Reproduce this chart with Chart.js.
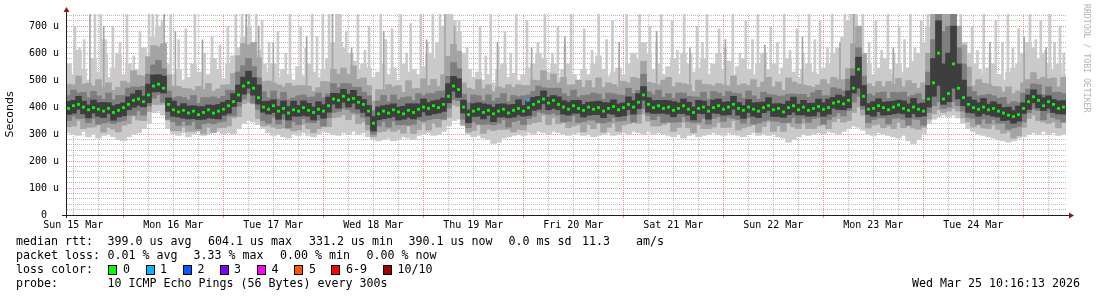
<!DOCTYPE html>
<html>
<head>
<meta charset="utf-8">
<title>smokeping rtt</title>
<script src="https://cdn.jsdelivr.net/npm/chart.js@4.4.1/dist/chart.umd.min.js"></script>
<style>
  html, body { margin: 0; padding: 0; background: #fff; }
  #wrap { position: relative; width: 1097px; height: 297px; overflow: hidden; }
  #chart { position: absolute; left: 0; top: 0; }
  .lg { position: absolute; font-family: "DejaVu Sans Mono", monospace; font-size: 11.63px; line-height: 14px; white-space: pre; color: #000; }
  .box { position: absolute; width: 7px; height: 8px; border: 1px solid #000; top: 265px; }
  #credit { position: absolute; left: 1082px; top: 4px; writing-mode: vertical-rl; font-family: "DejaVu Sans Mono", monospace; font-size: 8.2px; line-height: 10px; color: #b4b4b4; white-space: pre; }
</style>
</head>
<body>
<div id="wrap">
  <canvas id="chart" width="1097" height="297"></canvas>

  <!-- legend block under the graph -->
  <div class="lg" style="left:16px;top:234px">median rtt:</div>
  <div class="lg" style="left:107.5px;top:234px">399.0 us avg</div>
  <div class="lg" style="left:208px;top:234px">604.1 us max</div>
  <div class="lg" style="left:309px;top:234px">331.2 us min</div>
  <div class="lg" style="left:408.5px;top:234px">390.1 us now</div>
  <div class="lg" style="left:508.5px;top:234px">0.0 ms sd</div>
  <div class="lg" style="left:582px;top:234px">11.3</div>
  <div class="lg" style="left:636px;top:234px">am/s</div>

  <div class="lg" style="left:16px;top:248px">packet loss:</div>
  <div class="lg" style="left:107.5px;top:248px">0.01 % avg</div>
  <div class="lg" style="left:193.5px;top:248px">3.33 % max</div>
  <div class="lg" style="left:280px;top:248px">0.00 % min</div>
  <div class="lg" style="left:366.5px;top:248px">0.00 % now</div>

  <div class="lg" style="left:16px;top:262px">loss color:</div>
  <div class="box" style="left:108px;background:#00ff00"></div><div class="lg" style="left:123px;top:262px">0</div>
  <div class="box" style="left:146px;background:#00b8ff"></div><div class="lg" style="left:160px;top:262px">1</div>
  <div class="box" style="left:183px;background:#0059ff"></div><div class="lg" style="left:197.5px;top:262px">2</div>
  <div class="box" style="left:220px;background:#7e00ff"></div><div class="lg" style="left:234px;top:262px">3</div>
  <div class="box" style="left:257px;background:#ff00ff"></div><div class="lg" style="left:271.5px;top:262px">4</div>
  <div class="box" style="left:294px;background:#ff5500"></div><div class="lg" style="left:309px;top:262px">5</div>
  <div class="box" style="left:331px;background:#ff0000"></div><div class="lg" style="left:346px;top:262px">6-9</div>
  <div class="box" style="left:383px;background:#a10000"></div><div class="lg" style="left:397.5px;top:262px">10/10</div>

  <div class="lg" style="left:16px;top:276px">probe:</div>
  <div class="lg" style="left:107.5px;top:276px">10 ICMP Echo Pings (56 Bytes) every 300s</div>
  <div class="lg" style="right:17px;top:276px">Wed Mar 25 10:16:13 2026</div>

  <div id="credit">RRDTOOL / TOBI OETIKER</div>
</div>

<script>
// ---- time axis: hours counted from Sun 15 Mar 00:00 ----
const startHour = 10.25;   // left edge of the graph (Sun 15 Mar 10:15)
const endHour = 250.25;    // right edge (Wed 25 Mar 10:15)
const colStep = 1.2;       // one smoke column = 1.2 h
const dayLabels = ['Sun 15 Mar', 'Mon 16 Mar', 'Tue 17 Mar', 'Wed 18 Mar', 'Thu 19 Mar',
                   'Fri 20 Mar', 'Sat 21 Mar', 'Sun 22 Mar', 'Mon 23 Mar', 'Tue 24 Mar'];
const yTickValues = [0, 20, 40, 60, 80, 100, 120, 140, 160, 180, 200, 220, 240, 260, 280, 300, 320, 340,
                     360, 380, 400, 420, 440, 460, 480, 500, 520, 540, 560, 580, 600, 620, 640, 660, 680, 700, 720, 740];
const xTickValues = [12, 18, 24, 30, 36, 42, 48, 54, 60, 66, 72, 78, 84, 90, 96, 102, 108, 114, 120, 126,
                     132, 138, 144, 150, 156, 162, 168, 174, 180, 186, 192, 198, 204, 210, 216, 222, 228, 234, 240, 246];

// ---- median rtt (us), one value per column ----
const medianRtt = [
  395, 405, 410, 400, 390, 398, 392, 385, 395, 380,
  388, 398, 410, 425, 430, 420, 445, 478, 485, 470,
  410, 390, 382, 388, 378, 385, 372, 380, 390, 378,
  385, 392, 405, 420, 445, 478, 490, 470, 435, 400,
  392, 405, 385, 395, 378, 390, 385, 398, 388, 380,
  392, 385, 405, 430, 425, 440, 428, 432, 418, 410,
  385, 340, 375, 385, 378, 390, 382, 375, 388, 380,
  392, 400, 395, 405, 398, 410, 440, 478, 465, 400,
  372, 385, 392, 380, 388, 375, 385, 392, 378, 388,
  395, 385, 398, 410, 420, 430, 415, 425, 410, 400,
  392, 405, 395, 388, 400, 392, 398, 385, 395, 402,
  390, 398, 410, 400, 418, 445, 410, 398, 405, 395,
  400, 388, 395, 405, 392, 380, 395, 400, 385, 398,
  405, 392, 400, 410, 395, 388, 400, 392, 385, 398,
  405, 390, 395, 382, 398, 405, 390, 400, 388, 395,
  402, 392, 398, 415, 420, 412, 425, 470, 540, 440,
  392, 395, 405, 398, 390, 400, 408, 395, 388, 400,
  392, 385, 430, 490, 600, 430, 450, 560, 470, 435,
  410, 398, 392, 400, 390, 395, 385, 378, 370, 365,
  372, 395, 420, 438, 425, 405, 420, 410, 395, 400
];

// ---- outer smoke (fastest / slowest ping) ----
const smokeMin = [
  305, 300, 295, 310, 290, 300, 285, 295, 300, 290,
  280, 275, 290, 300, 305, 320, 340, 380, 385, 370,
  320, 300, 295, 305, 290, 300, 310, 295, 300, 305,
  310, 300, 305, 300, 320, 340, 350, 345, 335, 320,
  305, 295, 300, 290, 285, 300, 295, 305, 295, 290,
  300, 310, 305, 300, 295, 305, 300, 310, 300, 305,
  290, 280, 275, 280, 285, 275, 280, 290, 285, 280,
  295, 300, 305, 295, 300, 310, 330, 350, 355, 340,
  300, 290, 295, 285, 280, 265, 270, 285, 290, 295,
  300, 295, 305, 300, 310, 305, 300, 310, 305, 300,
  295, 300, 305, 295, 300, 290, 295, 300, 305, 295,
  300, 305, 300, 310, 305, 300, 310, 300, 305, 300,
  295, 290, 300, 285, 295, 300, 290, 295, 300, 305,
  300, 295, 305, 300, 295, 290, 300, 305, 295, 300,
  295, 300, 290, 285, 270, 280, 290, 300, 295, 300,
  305, 300, 310, 305, 300, 310, 320, 330, 325, 315,
  300, 295, 305, 300, 295, 290, 285, 295, 275, 265,
  280, 300, 340, 355, 365, 370, 365, 370, 360, 340,
  320, 310, 300, 295, 290, 285, 280, 275, 270, 275,
  285, 290, 300, 305, 300, 310, 300, 305, 295, 300
];
const smokeMax = [
  560, 520, 610, 540, 500, 580, 530, 650, 510, 545,
  600, 520, 560, 505, 540, 620, 580, 660, 700, 640,
  560, 520, 540, 500, 510, 560, 530, 495, 520, 580,
  540, 505, 560, 590, 620, 660, 700, 640, 610, 560,
  530, 560, 510, 540, 520, 500, 550, 515, 560, 530,
  510, 540, 580, 640, 745, 620, 600, 570, 540, 560,
  545, 510, 530, 560, 520, 545, 500, 560, 530, 540,
  520, 550, 600, 580, 640, 700, 745, 720, 680, 600,
  540, 510, 530, 500, 520, 490, 540, 560, 510, 525,
  500, 520, 545, 560, 600, 580, 530, 560, 510, 540,
  560, 520, 500, 540, 520, 560, 590, 540, 515, 530,
  545, 520, 560, 600, 580, 640, 600, 540, 560, 520,
  550, 580, 520, 600, 560, 530, 545, 580, 520, 560,
  600, 540, 570, 520, 550, 580, 540, 520, 560, 600,
  540, 560, 520, 545, 580, 530, 510, 540, 560, 530,
  520, 545, 560, 600, 620, 660, 720, 745, 700, 600,
  560, 520, 545, 580, 540, 520, 560, 530, 545, 570,
  600, 640, 700, 745, 745, 745, 745, 745, 700, 640,
  600, 560, 540, 520, 545, 560, 520, 500, 530, 545,
  560, 600, 640, 620, 580, 600, 560, 540, 560, 520
];

// ---- inner smoke: ping 2..9 ----
const band2Low = [
  327, 330, 350, 320, 325, 326, 334, 307, 325, 318,
  308, 333, 338, 367, 352, 350, 383, 410, 410, 410,
  352, 312, 312, 326, 310, 310, 312, 300, 325, 306,
  323, 324, 330, 360, 365, 413, 418, 412, 357, 330,
  332, 325, 320, 323, 320, 312, 315, 336, 320, 305,
  320, 327, 327, 360, 363, 372, 353, 372, 338, 345,
  315, 290, 307, 310, 318, 310, 317, 303, 330, 302,
  317, 340, 315, 340, 326, 352, 362, 408, 403, 332,
  307, 313, 334, 302, 318, 313, 317, 317, 318, 308,
  317, 315, 336, 342, 345, 370, 335, 360, 338, 342,
  324, 330, 335, 308, 335, 320, 340, 307, 325, 340,
  310, 333, 338, 342, 340, 375, 348, 330, 330, 335,
  342, 310, 325, 343, 324, 305, 335, 320, 320, 326,
  343, 324, 325, 350, 315, 323, 328, 334, 307, 328,
  345, 310, 330, 310, 340, 327, 320, 338, 320, 320,
  330, 334, 320, 345, 358, 344, 350, 380, 400, 370,
  322, 333, 337, 323, 330, 320, 343, 323, 330, 322,
  317, 325, 355, 375, 390, 380, 385, 395, 385, 360,
  345, 326, 334, 322, 320, 333, 317, 303, 310, 285,
  294, 325, 358, 370, 350, 345, 340, 345, 323, 342
];
const band2High = [
  485, 483, 515, 485, 488, 478, 502, 473, 490, 462,
  473, 496, 490, 535, 518, 515, 587, 628, 623, 635,
  520, 478, 477, 470, 468, 463, 477, 465, 488, 458,
  467, 482, 483, 525, 590, 636, 630, 640, 583, 495,
  497, 490, 483, 475, 488, 478, 480, 480, 478, 458,
  472, 495, 493, 540, 522, 545, 521, 552, 503, 508,
  480, 422, 465, 463, 483, 475, 480, 455, 498, 468,
  470, 505, 480, 503, 478, 520, 588, 633, 607, 490,
  470, 465, 502, 468, 483, 457, 475, 470, 483, 473,
  483, 480, 480, 500, 498, 535, 500, 523, 490, 510,
  482, 483, 500, 473, 498, 472, 508, 473, 490, 484,
  475, 496, 490, 510, 506, 570, 492, 488, 483, 500,
  510, 476, 490, 487, 482, 458, 500, 485, 483, 478,
  487, 482, 478, 515, 480, 486, 480, 502, 473, 493,
  510, 475, 493, 462, 508, 493, 485, 482, 478, 473,
  482, 502, 486, 510, 502, 502, 543, 635, 700, 598,
  487, 477, 495, 476, 495, 485, 506, 475, 498, 488,
  470, 490, 600, 745, 745, 745, 745, 745, 700, 630,
  548, 478, 502, 488, 485, 477, 475, 456, 475, 450,
  460, 490, 502, 528, 503, 510, 505, 508, 475, 510
];

// ---- inner smoke: ping 3..8 ----
const band3Low = [
  350, 367, 358, 358, 342, 358, 337, 341, 345, 339,
  346, 350, 370, 370, 386, 370, 404, 433, 447, 418,
  355, 346, 332, 347, 333, 347, 320, 338, 342, 338,
  344, 347, 367, 368, 403, 430, 450, 415, 391, 350,
  340, 363, 337, 355, 323, 346, 335, 357, 343, 342,
  352, 330, 361, 380, 384, 395, 390, 380, 376, 362,
  335, 299, 330, 347, 326, 348, 334, 335, 333, 336,
  354, 348, 353, 357, 358, 355, 396, 428, 424, 355,
  324, 345, 337, 336, 338, 334, 340, 354, 326, 346,
  351, 335, 357, 365, 382, 378, 373, 377, 370, 345,
  347, 367, 343, 346, 352, 352, 343, 341, 345, 361,
  348, 350, 370, 345, 374, 395, 369, 353, 367, 343,
  345, 344, 345, 364, 347, 342, 343, 358, 337, 358,
  364, 347, 362, 358, 353, 340, 360, 337, 341, 348,
  353, 348, 347, 342, 343, 361, 340, 359, 343, 357,
  362, 337, 354, 365, 379, 367, 387, 418, 440, 392,
  342, 354, 360, 360, 338, 358, 360, 355, 333, 356,
  354, 333, 380, 405, 420, 395, 400, 420, 405, 385,
  362, 358, 337, 356, 340, 354, 340, 340, 318, 323,
  328, 345, 379, 393, 387, 353, 378, 362, 355, 345
];
const band3High = [
  443, 463, 452, 455, 435, 458, 442, 429, 452, 427,
  443, 443, 470, 475, 474, 477, 522, 556, 573, 542,
  460, 434, 439, 435, 426, 443, 414, 435, 435, 438,
  432, 440, 463, 462, 530, 553, 580, 550, 509, 457,
  434, 460, 430, 455, 428, 434, 442, 445, 436, 438,
  452, 435, 449, 487, 472, 488, 486, 474, 473, 455,
  442, 387, 423, 443, 420, 445, 427, 435, 438, 424,
  450, 442, 450, 450, 458, 460, 514, 565, 542, 448,
  417, 445, 442, 424, 445, 422, 433, 450, 420, 443,
  439, 442, 445, 458, 478, 472, 470, 470, 470, 450,
  440, 463, 437, 443, 445, 452, 448, 429, 452, 449,
  445, 443, 470, 450, 462, 522, 457, 446, 463, 437,
  450, 432, 452, 452, 440, 438, 437, 455, 430, 458,
  452, 440, 458, 452, 450, 433, 460, 442, 429, 455,
  447, 445, 440, 442, 448, 449, 447, 447, 436, 453,
  462, 442, 442, 472, 467, 460, 503, 542, 620, 515,
  449, 442, 453, 456, 432, 455, 453, 455, 438, 444,
  450, 427, 530, 650, 745, 680, 700, 745, 620, 560,
  475, 458, 442, 444, 447, 442, 433, 436, 412, 420,
  416, 452, 467, 486, 483, 447, 475, 455, 455, 450
];

// ---- inner smoke: ping 4..7 ----
const band4Low = [
  373, 377, 392, 375, 360, 378, 366, 361, 376, 351,
  363, 368, 390, 399, 406, 401, 416, 456, 457, 452,
  384, 366, 363, 359, 356, 357, 354, 355, 360, 358,
  356, 370, 377, 402, 420, 448, 470, 444, 411, 381,
  374, 380, 355, 375, 352, 366, 366, 369, 366, 352,
  372, 359, 381, 411, 396, 418, 400, 414, 393, 380,
  366, 311, 353, 357, 360, 365, 352, 355, 362, 356,
  364, 382, 370, 375, 378, 384, 416, 459, 436, 378,
  342, 365, 366, 356, 369, 346, 363, 364, 360, 363,
  371, 366, 369, 388, 392, 412, 390, 395, 390, 374,
  370, 377, 377, 363, 370, 372, 372, 361, 376, 373,
  365, 368, 390, 374, 394, 426, 381, 376, 377, 377,
  374, 364, 376, 376, 370, 352, 377, 375, 355, 378,
  376, 370, 372, 392, 370, 358, 380, 366, 361, 379,
  387, 365, 365, 362, 372, 381, 371, 371, 366, 367,
  382, 366, 374, 396, 391, 390, 397, 452, 470, 405,
  373, 366, 383, 370, 372, 375, 378, 375, 362, 376,
  364, 367, 400, 440, 480, 410, 420, 470, 430, 405,
  380, 378, 366, 376, 371, 366, 363, 350, 352, 340,
  348, 376, 391, 416, 397, 387, 395, 380, 375, 374
];
const band4High = [
  421, 425, 440, 422, 408, 426, 416, 417, 416, 405,
  410, 416, 438, 449, 462, 441, 485, 519, 520, 515,
  434, 422, 403, 413, 404, 405, 402, 402, 408, 406,
  410, 418, 425, 450, 482, 511, 533, 509, 482, 421,
  422, 427, 403, 423, 402, 422, 406, 423, 414, 400,
  420, 409, 437, 451, 450, 466, 448, 462, 440, 428,
  406, 365, 401, 405, 408, 412, 400, 403, 412, 412,
  412, 430, 417, 423, 426, 434, 487, 514, 505, 426,
  390, 413, 416, 412, 409, 400, 411, 412, 408, 410,
  427, 406, 423, 436, 440, 460, 437, 443, 438, 424,
  418, 425, 425, 410, 418, 420, 422, 417, 416, 427,
  412, 416, 438, 424, 450, 476, 435, 424, 425, 425,
  424, 420, 416, 430, 418, 400, 425, 422, 403, 426,
  430, 418, 420, 440, 417, 406, 428, 416, 417, 419,
  435, 412, 413, 410, 422, 437, 411, 425, 414, 415,
  430, 416, 430, 436, 445, 438, 460, 515, 585, 480,
  413, 420, 431, 418, 420, 422, 426, 423, 412, 432,
  412, 415, 480, 580, 720, 560, 600, 700, 560, 500,
  438, 426, 416, 432, 411, 420, 411, 398, 400, 387,
  404, 416, 445, 464, 445, 435, 442, 428, 423, 424
];

// ---- single slow pings that poke out of the smoke ----
const spikeFloor = 420;
const spikeHours = [
  12.4, 14.6, 17.2, 18.6, 21.5, 24.9, 28.0, 30.2, 31.1, 32.1, 33.3, 35.4, 39.0, 41.2, 45.3,
  49.1, 51.0, 52.5, 54.2, 55.9, 57.3, 61.1, 64.0, 66.6, 69.3, 71.9, 73.4, 75.3, 77.5, 80.3,
  83.0, 85.8, 88.5, 90.6, 93.0, 95.4, 98.3, 100.0, 101.7, 102.9, 104.6, 109.6, 112.2, 115.6, 118.3,
  120.9, 125.2, 128.3, 131.5, 134.6, 138.1, 141.4, 144.8, 147.9, 150.4, 153.1, 155.7, 158.6, 161.7, 164.1,
  167.0, 170.3, 173.4, 176.3, 179.4, 182.6, 185.7, 188.6, 191.2, 194.1, 197.2, 198.6, 200.0, 201.5, 204.6,
  207.5, 210.2, 212.9, 215.5, 217.1, 218.5, 220.2, 221.9, 223.5, 225.0, 227.7, 230.5, 233.4, 236.3, 238.9,
  241.6, 244.2, 246.4, 248.8,
  13.5, 20.0, 23.2, 26.5, 29.0, 37.3, 43.5, 47.2, 59.0, 63.0, 67.8, 70.5, 76.4, 79.0, 82.0,
  87.0, 92.0, 97.0, 106.5, 111.0, 114.0, 117.0, 123.5, 127.0, 130.0, 136.5, 140.0, 146.5, 152.0, 157.0,
  160.3, 163.0, 168.5, 172.0, 175.0, 178.0, 181.0, 184.0, 187.2, 190.0, 193.0, 196.0, 203.0, 206.0, 209.0,
  211.5, 214.0, 226.3, 229.0, 232.0, 235.0, 237.5, 240.3, 243.0, 245.3, 247.5, 249.7
];
const spikeTops = [
  700, 650, 745, 745, 700, 745, 680, 745, 745, 745, 720, 745, 690, 745, 660,
  700, 745, 745, 745, 745, 720, 680, 745, 700, 745, 745, 745, 720, 680, 745,
  700, 745, 690, 745, 710, 745, 745, 745, 745, 745, 720, 700, 745, 680, 745,
  720, 745, 700, 745, 690, 745, 720, 745, 745, 700, 745, 720, 745, 700, 745,
  690, 745, 720, 745, 700, 745, 690, 745, 720, 745, 745, 745, 745, 745, 720,
  745, 700, 745, 720, 745, 745, 745, 745, 745, 745, 700, 745, 720, 745, 690,
  745, 720, 745, 700,
  620, 600, 640, 590, 610, 650, 600, 630, 640, 600, 620, 660, 640, 600, 610,
  650, 600, 640, 620, 590, 620, 600, 640, 600, 630, 610, 650, 600, 640, 610,
  600, 640, 620, 600, 650, 600, 640, 610, 600, 650, 620, 600, 640, 610, 600,
  650, 620, 640, 610, 600, 640, 620, 600, 650, 610, 640, 600
];
const midSpikeHours = [
  16.0, 19.3, 33.8, 36.5, 43.0, 53.5, 56.5, 60.0, 68.0, 74.2, 78.8, 86.5, 96.8, 101.2, 103.5, 113.8, 122.0,
  130.0, 143.0, 152.0, 160.0, 168.5, 178.0, 187.0, 196.0, 199.3, 208.8, 219.3, 221.0, 224.2, 232.0, 240.2, 245.5
];
const midSpikeTops = [
  745, 700, 745, 680, 650, 745, 700, 640, 660, 745, 620, 680, 650, 745, 700, 640, 620,
  660, 640, 680, 620, 650, 630, 660, 640, 745, 620, 745, 745, 700, 640, 660, 620
];

// ---- a sample with 1/10 loss ----
const lossOneHours = [121.1];
const lossOneRtt = [425];

// ---- colours (smokeping / rrdtool defaults) ----
const smokeColors = ['#cacaca', '#a4a4a4', '#7e7e7e', '#3e3e3e'];
const medianColor = '#00ff00';
const lossOneColor = '#00b8ff';
const minorGrid = 'rgba(143,143,143,0.6)';
const majorGrid = 'rgba(222,79,79,0.6)';
const axisColor = 'rgb(31,31,31)';
const arrowColor = 'rgb(128,31,31)';
const monoFont = 'DejaVu Sans Mono';

// build the {x, y} tables for the library
const colHours = medianRtt.map((_, i) => startHour + colStep * (i + 0.5));
const ranges = (lo, hi) => colHours.map((h, i) => ({ x: h, y: [lo[i], hi[i]] }));
const spikes = (hours, tops) => hours.map((h, i) => ({ x: h, y: [spikeFloor, tops[i]] }));
const points = (hours, vals) => hours.map((h, i) => ({ x: h, y: vals[i] }));

function smokeSet(label, data, color, width, order) {
  return { type: 'bar', label, data, backgroundColor: color, borderWidth: 0,
           barThickness: width, grouped: false, order };
}

// axis lines running past the graph plus the two little arrows
const rrdFrame = {
  id: 'rrdFrame',
  afterDraw(chart) {
    const { ctx, chartArea: a } = chart;
    const x0 = Math.round(a.left) + 0.5;
    const y0 = Math.round(a.bottom) + 0.5;
    ctx.save();
    ctx.strokeStyle = axisColor;
    ctx.lineWidth = 1;
    ctx.beginPath();
    ctx.moveTo(a.left - 4, y0); ctx.lineTo(a.right + 4, y0);
    ctx.moveTo(x0, a.bottom + 3); ctx.lineTo(x0, a.top - 3);
    ctx.stroke();
    ctx.fillStyle = arrowColor;
    ctx.beginPath();
    ctx.moveTo(x0 - 3, a.top - 2); ctx.lineTo(x0 + 3, a.top - 2); ctx.lineTo(x0, a.top - 7);
    ctx.closePath(); ctx.fill();
    ctx.beginPath();
    ctx.moveTo(a.right + 3, y0 - 3); ctx.lineTo(a.right + 3, y0 + 3); ctx.lineTo(a.right + 8, y0);
    ctx.closePath(); ctx.fill();
    ctx.restore();
  }
};

new Chart(document.getElementById('chart'), {
  type: 'bar',
  data: {
    datasets: [
      { type: 'line', label: 'loss 1/10', data: points(lossOneHours, lossOneRtt), showLine: false,
        pointStyle: 'rect', pointRadius: 2, pointBorderWidth: 0, pointBackgroundColor: lossOneColor, order: 0 },
      { type: 'line', label: 'median rtt', data: points(colHours, medianRtt), showLine: false,
        pointStyle: 'rect', pointRadius: 2, pointBorderWidth: 0, pointBackgroundColor: medianColor, order: 1 },
      smokeSet('ping 4..7', ranges(band4Low, band4High), smokeColors[3], 6, 4),
      smokeSet('ping 3..8', ranges(band3Low, band3High), smokeColors[2], 6, 5),
      smokeSet('ping 2..9', ranges(band2Low, band2High), smokeColors[1], 6, 6),
      smokeSet('slow pings', spikes(midSpikeHours, midSpikeTops), smokeColors[1], 1, 7),
      smokeSet('slowest pings', spikes(spikeHours, spikeTops), smokeColors[0], 2, 8),
      smokeSet('ping 1..10', ranges(smokeMin, smokeMax), smokeColors[0], 6, 9)
    ]
  },
  options: {
    responsive: false,
    animation: false,
    devicePixelRatio: 1,
    layout: { padding: { left: 0, right: 31, top: 14, bottom: 0 } },
    plugins: { legend: { display: false }, tooltip: { enabled: false } },
    scales: {
      x: {
        type: 'linear', min: startHour, max: endHour, z: 1, offset: false,
        afterFit: s => { s.height = 82; },
        afterBuildTicks: s => { s.ticks = xTickValues.map(v => ({ value: v })); },
        grid: {
          offset: false,
          color: c => (c.tick && c.tick.value % 24 === 0) ? majorGrid : minorGrid,
          drawTicks: true, tickLength: 3,
          tickColor: c => (c.tick && c.tick.value % 24 === 0) ? majorGrid : 'rgba(0,0,0,0)'
        },
        border: { display: true, color: axisColor, dash: [1, 1] },
        ticks: {
          autoSkip: false, maxRotation: 0, padding: 1, color: '#000',
          font: { family: monoFont, size: 10 },
          callback: v => (v % 24 === 12) ? dayLabels[(v - 12) / 24] : ''
        }
      },
      y: {
        min: 0, max: 745, z: 1,
        afterFit: s => { s.width = 66; },
        afterBuildTicks: s => { s.ticks = yTickValues.map(v => ({ value: v })); },
        grid: {
          color: c => (c.tick && c.tick.value % 100 === 0) ? majorGrid : minorGrid,
          drawTicks: false
        },
        border: { display: true, color: axisColor, dash: [1, 1] },
        ticks: {
          autoSkip: false, padding: 7, color: '#000',
          font: { family: monoFont, size: 10 },
          callback: v => (v % 100 !== 0) ? '' : (v === 0 ? '0  ' : v + ' u')
        },
        title: {
          display: true, text: 'Seconds', color: '#000',
          font: { family: 'DejaVu Sans', size: 11 }, padding: { top: 4, bottom: 0 }
        }
      }
    }
  },
  plugins: [rrdFrame]
});
</script>
</body>
</html>
